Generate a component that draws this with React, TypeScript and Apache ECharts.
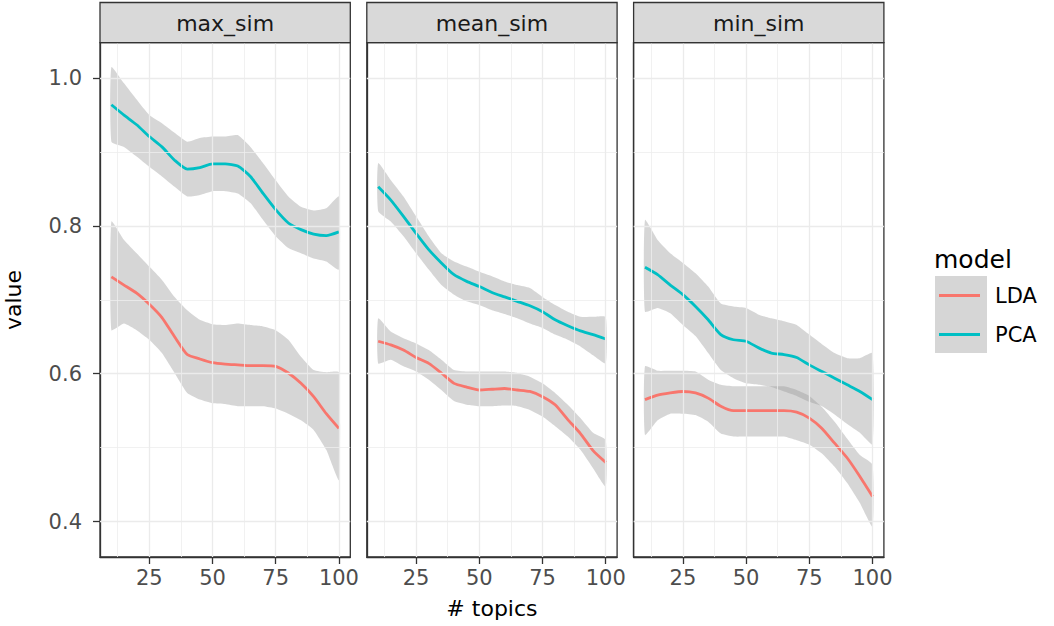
import { useEffect, useRef } from "react";
import * as echarts from "echarts";

// ---------- data ----------
const xs = [10, 15, 20, 25, 30, 35, 40, 45, 50, 55, 60, 65, 70, 75, 80, 85, 90, 95, 100];
const panels = ["max_sim", "mean_sim", "min_sim"];
const models = ["LDA", "PCA"];
const xTicks = [25, 50, 75, 100];
const xMinor = [12.5, 37.5, 62.5, 87.5];
const yTicks = [0.4, 0.6, 0.8, 1.0];
const yMinor = [0.5, 0.7, 0.9];

const maxPca = [0.964, 0.95, 0.937, 0.921, 0.907, 0.889, 0.877, 0.879, 0.884, 0.884, 0.881, 0.867, 0.844, 0.822, 0.804, 0.795, 0.789, 0.787, 0.792];
const maxPcaHi = [1.015, 0.993, 0.971, 0.95, 0.939, 0.926, 0.914, 0.919, 0.921, 0.921, 0.923, 0.907, 0.885, 0.862, 0.84, 0.826, 0.821, 0.824, 0.84];
const maxPcaLo = [0.914, 0.907, 0.894, 0.88, 0.867, 0.853, 0.84, 0.842, 0.847, 0.847, 0.844, 0.831, 0.808, 0.786, 0.77, 0.763, 0.756, 0.752, 0.741];
const maxLda = [0.731, 0.72, 0.709, 0.694, 0.676, 0.65, 0.626, 0.62, 0.615, 0.613, 0.612, 0.611, 0.611, 0.61, 0.601, 0.587, 0.569, 0.546, 0.526];
const maxLdaHi = [0.806, 0.781, 0.763, 0.745, 0.727, 0.704, 0.686, 0.673, 0.667, 0.666, 0.668, 0.666, 0.664, 0.659, 0.646, 0.623, 0.605, 0.602, 0.602];
const maxLdaLo = [0.659, 0.668, 0.659, 0.646, 0.628, 0.601, 0.574, 0.565, 0.56, 0.559, 0.556, 0.556, 0.556, 0.553, 0.546, 0.537, 0.524, 0.497, 0.456];

const meanPca = [0.853, 0.835, 0.813, 0.79, 0.768, 0.75, 0.734, 0.725, 0.718, 0.71, 0.704, 0.698, 0.692, 0.684, 0.673, 0.665, 0.658, 0.653, 0.647];
const meanPcaHi = [0.885, 0.862, 0.84, 0.813, 0.786, 0.763, 0.752, 0.745, 0.738, 0.732, 0.725, 0.72, 0.716, 0.704, 0.693, 0.684, 0.677, 0.677, 0.677];
const meanPcaLo = [0.82, 0.806, 0.786, 0.763, 0.741, 0.72, 0.707, 0.698, 0.693, 0.686, 0.681, 0.675, 0.668, 0.662, 0.653, 0.646, 0.637, 0.625, 0.614];
const meanLda = [0.644, 0.639, 0.632, 0.622, 0.614, 0.601, 0.587, 0.582, 0.578, 0.579, 0.58, 0.578, 0.576, 0.569, 0.558, 0.538, 0.519, 0.496, 0.48];
const meanLdaHi = [0.675, 0.657, 0.648, 0.641, 0.632, 0.619, 0.605, 0.603, 0.603, 0.603, 0.603, 0.601, 0.596, 0.587, 0.574, 0.558, 0.54, 0.52, 0.51];
const meanLdaLo = [0.614, 0.619, 0.61, 0.603, 0.592, 0.578, 0.563, 0.558, 0.556, 0.556, 0.557, 0.556, 0.551, 0.542, 0.529, 0.515, 0.497, 0.472, 0.447];

const minPca = [0.744, 0.734, 0.72, 0.707, 0.691, 0.673, 0.653, 0.646, 0.644, 0.635, 0.628, 0.626, 0.622, 0.612, 0.603, 0.594, 0.585, 0.576, 0.565];
const minPcaHi = [0.808, 0.781, 0.763, 0.75, 0.736, 0.718, 0.695, 0.691, 0.689, 0.68, 0.675, 0.671, 0.666, 0.653, 0.64, 0.628, 0.621, 0.621, 0.628];
const minPcaLo = [0.684, 0.689, 0.682, 0.666, 0.651, 0.628, 0.605, 0.594, 0.587, 0.585, 0.582, 0.576, 0.57, 0.562, 0.556, 0.545, 0.532, 0.52, 0.504];
const minLda = [0.565, 0.571, 0.574, 0.576, 0.574, 0.567, 0.556, 0.55, 0.55, 0.55, 0.55, 0.55, 0.548, 0.54, 0.526, 0.506, 0.486, 0.461, 0.434];
const minLdaHi = [0.61, 0.604, 0.604, 0.604, 0.603, 0.592, 0.585, 0.583, 0.583, 0.583, 0.583, 0.583, 0.578, 0.57, 0.555, 0.535, 0.512, 0.49, 0.477];
const minLdaLo = [0.517, 0.537, 0.546, 0.546, 0.544, 0.535, 0.519, 0.515, 0.515, 0.515, 0.515, 0.515, 0.51, 0.504, 0.492, 0.474, 0.452, 0.425, 0.393];

const panelData = [
  { LDA: [maxLda, maxLdaLo, maxLdaHi], PCA: [maxPca, maxPcaLo, maxPcaHi] },
  { LDA: [meanLda, meanLdaLo, meanLdaHi], PCA: [meanPca, meanPcaLo, meanPcaHi] },
  { LDA: [minLda, minLdaLo, minLdaHi], PCA: [minPca, minPcaLo, minPcaHi] },
];

// ---------- styling / layout ----------
const COLORS: Record<string, string> = { LDA: "#F8766D", PCA: "#00BFC4" };
const FONT = "DejaVu Sans";
const PANEL_LEFT = [100, 366.8, 633.6];
const PANEL_W = 250.3;
const PANEL_TOP = 42.7;
const PANEL_BOTTOM = 557;
const STRIP_TOP = 2.5;
const BORDER = "#333333";

function bandRenderItem(params: any, api: any) {
  if (params.dataIndexInside !== 0) return null;
  const n = params.dataInsideLength;
  const top: number[][] = [];
  const bot: number[][] = [];
  for (let k = 0; k < n; k++) {
    const x = api.value(0, k);
    top.push(api.coord([x, api.value(2, k)]));
    bot.push(api.coord([x, api.value(1, k)]));
  }
  bot.reverse();
  return {
    type: "polygon",
    shape: { points: top.concat(bot), smooth: 0.15 },
    style: { fill: "#999999", opacity: 0.4 },
    silent: true,
  };
}

export default function App() {
  const ref = useRef<HTMLDivElement>(null);

  useEffect(() => {
    if (!ref.current) return;
    const chart = echarts.init(ref.current, undefined, { renderer: "svg" });

    const grids = PANEL_LEFT.map((left) => ({
      left,
      top: PANEL_TOP,
      width: PANEL_W,
      height: PANEL_BOTTOM - PANEL_TOP,
      show: true,
      borderColor: BORDER,
      borderWidth: 1.3,
      backgroundColor: "#ffffff",
    }));

    const xAxes = panels.map((_, i) => ({
      type: "value",
      gridIndex: i,
      min: 5.5,
      max: 104.5,
      axisLine: { show: true, lineStyle: { color: BORDER, width: 1.3 } },
      axisTick: { show: true, customValues: xTicks, length: 7, lineStyle: { color: BORDER, width: 1.3 } },
      axisLabel: { show: true, customValues: xTicks, fontSize: 21, color: "#4D4D4D", margin: 10, fontFamily: FONT },
      splitLine: { show: false },
    }));

    const yAxes = panels.map((_, i) => ({
      type: "value",
      gridIndex: i,
      min: 0.352,
      max: 1.048,
      axisLine: { show: true, lineStyle: { color: BORDER, width: 1.3 } },
      axisTick: { show: i === 0, customValues: yTicks, length: 7, lineStyle: { color: BORDER, width: 1.3 } },
      axisLabel: {
        show: i === 0,
        customValues: yTicks,
        fontSize: 21,
        color: "#4D4D4D",
        margin: 18,
        fontFamily: FONT,
        formatter: (v: number) => v.toFixed(1),
      },
      splitLine: { show: false },
    }));

    const series: any[] = [];
    panels.forEach((_, i) => {
      // grid lines
      series.push({
        type: "line",
        name: "grid-" + i,
        xAxisIndex: i,
        yAxisIndex: i,
        data: [],
        silent: true,
        z: 1,
        markLine: {
          silent: true,
          symbol: "none",
          animation: false,
          label: { show: false },
          emphasis: { disabled: true },
          data: [
            ...xMinor.map((v) => ({ xAxis: v, lineStyle: { color: "#EEEEEE", width: 0.8, type: "solid" } })),
            ...yMinor.map((v) => ({ yAxis: v, lineStyle: { color: "#EEEEEE", width: 0.8, type: "solid" } })),
            ...xTicks.map((v) => ({ xAxis: v, lineStyle: { color: "#EBEBEB", width: 1.3, type: "solid" } })),
            ...yTicks.map((v) => ({ yAxis: v, lineStyle: { color: "#EBEBEB", width: 1.3, type: "solid" } })),
          ],
        },
      });
      // confidence bands
      models.forEach((m) => {
        const [, lo, hi] = (panelData[i] as any)[m] as number[][];
        series.push({
          type: "custom",
          name: `${m} band`,
          xAxisIndex: i,
          yAxisIndex: i,
          data: xs.map((x, k) => [x, lo[k], hi[k]]),
          encode: { x: 0, y: [1, 2] },
          renderItem: bandRenderItem,
          silent: true,
          z: 2,
        });
      });
      // fitted lines
      models.forEach((m) => {
        const [vals] = (panelData[i] as any)[m] as number[][];
        series.push({
          type: "line",
          name: m,
          xAxisIndex: i,
          yAxisIndex: i,
          data: xs.map((x, k) => [x, vals[k]]),
          symbol: "none",
          smooth: 0.2,
          color: COLORS[m],
          lineStyle: { color: COLORS[m], width: 2.8 },
          itemStyle: { color: COLORS[m] },
          z: 3,
        });
      });
    });

    const graphics: any[] = [];
    panels.forEach((p, i) => {
      graphics.push({
        type: "rect",
        z: 10,
        shape: { x: PANEL_LEFT[i], y: STRIP_TOP, width: PANEL_W, height: PANEL_TOP - STRIP_TOP },
        style: { fill: "#D9D9D9", stroke: BORDER, lineWidth: 1.3 },
      });
      graphics.push({
        type: "text",
        z: 11,
        x: PANEL_LEFT[i] + PANEL_W / 2,
        y: (STRIP_TOP + PANEL_TOP) / 2 + 1,
        style: {
          text: p,
          fontSize: 22,
          fontFamily: FONT,
          fill: "#1A1A1A",
          textAlign: "center",
          textVerticalAlign: "middle",
          align: "center",
          verticalAlign: "middle",
        },
      });
    });
    // axis titles
    graphics.push({
      type: "text",
      x: 13,
      y: 300,
      rotation: Math.PI / 2,
      style: {
        text: "value",
        fontSize: 22,
        fontFamily: FONT,
        fill: "#000000",
        textAlign: "center",
        textVerticalAlign: "middle",
        align: "center",
        verticalAlign: "middle",
      },
    });
    graphics.push({
      type: "text",
      x: (PANEL_LEFT[0] + PANEL_LEFT[2] + PANEL_W) / 2,
      y: 608,
      style: {
        text: "# topics",
        fontSize: 22,
        fontFamily: FONT,
        fill: "#000000",
        textAlign: "center",
        textVerticalAlign: "middle",
        align: "center",
        verticalAlign: "middle",
      },
    });
    // legend title and key background
    graphics.push({
      type: "text",
      x: 934,
      y: 259,
      style: {
        text: "model",
        fontSize: 25,
        fontFamily: FONT,
        fill: "#000000",
        textAlign: "left",
        textVerticalAlign: "middle",
        align: "left",
        verticalAlign: "middle",
      },
    });
    graphics.push({
      type: "rect",
      z: 0,
      shape: { x: 935, y: 276, width: 52, height: 77 },
      style: { fill: "rgba(153,153,153,0.4)" },
    });

    chart.setOption({
      animation: false,
      backgroundColor: "#ffffff",
      grid: grids,
      xAxis: xAxes,
      yAxis: yAxes,
      legend: {
        data: models,
        orient: "vertical",
        left: 939,
        top: 285,
        icon: "rect",
        itemWidth: 41,
        itemHeight: 3,
        itemGap: 18,
        padding: 0,
        selectedMode: false,
        textStyle: { fontSize: 21, color: "#000000", fontFamily: FONT, padding: [0, 0, 0, 10], lineHeight: 21 },
      },
      graphic: graphics,
      series,
    });

    return () => chart.dispose();
  }, []);

  return (
    <div
      ref={ref}
      style={{ position: "fixed", left: 0, top: 0, width: 1054, height: 626, background: "#fff" }}
    />
  );
}
